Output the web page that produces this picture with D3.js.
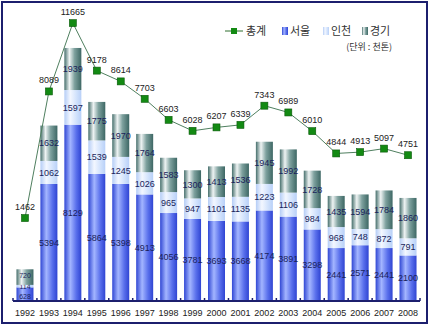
<!DOCTYPE html>
<html>
<head>
<meta charset="utf-8">
<script src="https://cdn.jsdelivr.net/npm/d3@7"></script>
<style>
  body { margin: 0; background: #fff; }
  text { font-family: "Liberation Sans", Arial, "Noto Sans CJK KR", sans-serif; }
  .kr { font-family: "Noto Sans CJK KR", sans-serif; }
</style>
</head>
<body>
<div id="chart"></div>
<script>
// data
var years   = ["1992","1993","1994","1995","1996","1997","1998","1999","2000","2001","2002","2003","2004","2005","2006","2007","2008"];
var seoul   = [628, 5394, 8129, 5864, 5398, 4913, 4056, 3781, 3693, 3668, 4174, 3891, 3298, 2441, 2571, 2441, 2100];
var incheon = [114, 1062, 1597, 1539, 1245, 1026, 965, 947, 1101, 1135, 1223, 1106, 984, 968, 748, 872, 791];
var gyeonggi = [720, 1632, 1939, 1775, 1970, 1764, 1583, 1300, 1413, 1536, 1945, 1992, 1728, 1435, 1594, 1784, 1860];
var totals  = [1462, 8089, 11665, 9178, 8614, 7703, 6603, 6028, 6207, 6339, 7343, 6989, 6010, 4844, 4913, 5097, 4751];
var seriesNames = ["서울", "인천", "경기"];

var W = 430, H = 326;
var svg = d3.select("#chart").append("svg").attr("width", W).attr("height", H);

// gradients for the cylinder look
var defs = svg.append("defs");
function grad(id, stops) {
  var g = defs.append("linearGradient").attr("id", id)
    .attr("x1", "0%").attr("x2", "100%").attr("y1", "0%").attr("y2", "0%");
  stops.forEach(function (s) { g.append("stop").attr("offset", s[0]).attr("stop-color", s[1]); });
}
grad("gSeoul", [["0%", "#3047d4"], ["35%", "#a3b5ff"], ["70%", "#5a70ec"], ["100%", "#2f44d2"]]);
grad("gIncheon", [["0%", "#b5cdf6"], ["35%", "#f3f7ff"], ["70%", "#d3e3fc"], ["100%", "#b8d0f8"]]);
grad("gGyeonggi", [["0%", "#466f6c"], ["30%", "#eef3f3"], ["60%", "#7ea19e"], ["100%", "#3d6764"]]);
var fills = ["url(#gSeoul)", "url(#gIncheon)", "url(#gGyeonggi)"];

// outer frame
svg.append("rect").attr("x", 2).attr("y", 2).attr("width", 425).attr("height", 321)
  .attr("fill", "none").attr("stroke", "#1c1f6e").attr("stroke-width", 2);

var x = d3.scaleBand().domain(years).range([13, 420]).paddingInner(0.29).paddingOuter(0.145);
var y = d3.scaleLinear().domain([0, 12000]).range([301, 40.7]);
var y2 = d3.scaleLinear().domain([0, 12000]).range([246, 16.7]);

var rows = years.map(function (yr, i) {
  return { year: yr, "서울": seoul[i], "인천": incheon[i], "경기": gyeonggi[i], total: totals[i] };
});
var stacked = d3.stack().keys(seriesNames)(rows);

var layers = svg.append("g").selectAll("g").data(stacked).enter().append("g")
  .attr("fill", function (d, i) { return fills[i]; });

layers.selectAll("rect").data(function (d) { return d; }).enter().append("rect")
  .attr("x", function (d) { return x(d.data.year); })
  .attr("y", function (d) { return y(d[1]); })
  .attr("width", x.bandwidth())
  .attr("height", function (d) { return y(d[0]) - y(d[1]); });

// small 1992 segments get a smaller font, pushed apart a little
function small(d) { return d.data.total < 2000; }
layers.selectAll("text").data(function (d) { return d; }).enter().append("text")
  .attr("x", function (d) { return x(d.data.year) + x.bandwidth() / 2; })
  .attr("y", function (d) {
    var mid = (y(d[0]) + y(d[1])) / 2;
    if (small(d)) {
      if (d[0] === 0) return mid + 5;
      if (d[1] - d[0] < 300) return mid + 2.5;
      return mid + 0.5;
    }
    return mid + 3.2;
  })
  .attr("text-anchor", "middle")
  .attr("font-size", function (d) { return small(d) ? "7px" : "9px"; })
  .attr("fill", "#1a1f5a")
  .text(function (d) { return d[1] - d[0]; });

// x axis
var xAxis = svg.append("g").attr("transform", "translate(0,301)");
xAxis.append("line").attr("x1", 13).attr("x2", 420).attr("stroke", "#1c1f6e").attr("stroke-width", 2);
var step = x.step();
xAxis.selectAll("line.tick").data(d3.range(years.length + 1)).enter().append("line")
  .attr("class", "tick")
  .attr("x1", function (i) { return 13 + i * step; })
  .attr("x2", function (i) { return 13 + i * step; })
  .attr("y1", -3).attr("y2", 0)
  .attr("stroke", "#1c1f6e").attr("stroke-width", 1.5);
xAxis.selectAll("text").data(years).enter().append("text")
  .attr("x", function (d) { return x(d) + x.bandwidth() / 2; })
  .attr("y", 15)
  .attr("text-anchor", "middle")
  .attr("font-size", "9px")
  .attr("fill", "#222")
  .text(function (d) { return d; });

// total line
var line = d3.line()
  .x(function (d) { return x(d.year) + x.bandwidth() / 2; })
  .y(function (d) { return y2(d.total); });
svg.append("path").datum(rows).attr("d", line)
  .attr("fill", "none").attr("stroke", "#4f7f5f").attr("stroke-width", 1);

svg.selectAll("rect.mark").data(rows).enter().append("rect")
  .attr("class", "mark")
  .attr("x", function (d) { return x(d.year) + x.bandwidth() / 2 - 3.5; })
  .attr("y", function (d) { return y2(d.total) - 3.5; })
  .attr("width", 7).attr("height", 7)
  .attr("fill", "#138a13").attr("stroke", "#0b5a0b").attr("stroke-width", 0.6);

svg.selectAll("text.tot").data(rows).enter().append("text")
  .attr("class", "tot")
  .attr("x", function (d) { return x(d.year) + x.bandwidth() / 2; })
  .attr("y", function (d) { return y2(d.total) - 8; })
  .attr("text-anchor", "middle")
  .attr("font-size", "9px")
  .attr("fill", "#222")
  .text(function (d) { return d.total; });

// legend
var lg = svg.append("g");
lg.append("line").attr("x1", 225).attr("x2", 243).attr("y1", 31).attr("y2", 31)
  .attr("stroke", "#2e6e2e").attr("stroke-width", 1);
lg.append("rect").attr("x", 231).attr("y", 28).attr("width", 6).attr("height", 6).attr("fill", "#138a13");
lg.append("text").attr("class", "kr").attr("x", 246).attr("y", 35).attr("font-size", "11px")
  .attr("fill", "#333").text("총계");
var legX = [282, 323, 362];
seriesNames.forEach(function (name, i) {
  lg.append("rect").attr("x", legX[i]).attr("y", 27).attr("width", 6).attr("height", 8).attr("fill", fills[i]);
  lg.append("text").attr("class", "kr").attr("x", legX[i] + 8).attr("y", 35).attr("font-size", "11px")
    .attr("fill", "#333").text(name);
});
lg.append("text").attr("class", "kr").attr("x", 392).attr("y", 50).attr("text-anchor", "end")
  .attr("font-size", "9px").attr("fill", "#333").text("(단위 : 천톤)");
</script>
</body>
</html>
